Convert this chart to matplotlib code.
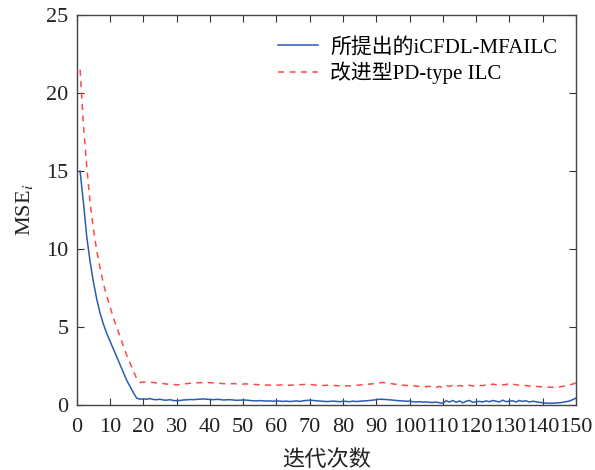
import matplotlib
matplotlib.use('Agg')
import matplotlib.pyplot as plt

plt.rcParams['font.family'] = ['Liberation Serif', 'Noto Sans CJK SC']
plt.rcParams['mathtext.fontset'] = 'stix'

iterations = list(range(1, 151))

# proposed iCFDL-MFAILC
mse_proposed = [
    15.0, 13.0, 10.8, 9.2, 7.9, 6.8, 5.9, 5.2, 4.6, 4.1,
    3.6, 3.1, 2.6, 2.1, 1.6, 1.2, 0.8, 0.45, 0.38,
    0.40, 0.38, 0.42, 0.36, 0.35, 0.38, 0.33, 0.32, 0.35, 0.30, 0.28,
    0.30, 0.33, 0.34, 0.36, 0.35, 0.37, 0.38, 0.40, 0.38, 0.36,
    0.35, 0.37, 0.36, 0.33, 0.34, 0.35, 0.33, 0.31, 0.32, 0.33,
    0.32, 0.30, 0.28, 0.27, 0.29, 0.28, 0.26, 0.27, 0.25, 0.27,
    0.26, 0.24, 0.26, 0.23, 0.25, 0.27, 0.24, 0.28, 0.30, 0.32,
    0.30, 0.28, 0.26, 0.25, 0.23, 0.24, 0.26, 0.24, 0.22, 0.25,
    0.24, 0.22, 0.26, 0.23, 0.25, 0.27, 0.28, 0.30, 0.32, 0.35,
    0.38, 0.37, 0.36, 0.34, 0.32, 0.30, 0.28, 0.27, 0.25, 0.26,
    0.22, 0.20, 0.22, 0.19, 0.21, 0.18, 0.17, 0.20, 0.15, 0.12,
    0.28, 0.20, 0.30, 0.18, 0.27, 0.15, 0.25, 0.30, 0.18, 0.22,
    0.24, 0.20, 0.27, 0.22, 0.30, 0.25, 0.20, 0.32, 0.22, 0.26,
    0.28, 0.20, 0.30, 0.24, 0.28, 0.20, 0.25, 0.22, 0.18, 0.15,
    0.13, 0.12, 0.12, 0.14, 0.15, 0.18, 0.22, 0.26, 0.35, 0.45,
]

# improved PD-type ILC
mse_pd = [
    21.5, 18.0, 15.3, 13.0, 11.3, 9.9, 8.8, 7.8, 7.0, 6.3,
    5.6, 5.0, 4.4, 3.8, 3.2, 2.7, 2.2, 1.7, 1.45,
    1.48, 1.50, 1.47, 1.45, 1.42, 1.40, 1.38, 1.35, 1.36, 1.32, 1.30,
    1.32, 1.35, 1.38, 1.40, 1.42, 1.43, 1.44, 1.45, 1.46, 1.44,
    1.43, 1.42, 1.40, 1.38, 1.36, 1.37, 1.38, 1.36, 1.34, 1.35,
    1.36, 1.35, 1.33, 1.32, 1.30, 1.31, 1.29, 1.28, 1.27, 1.28,
    1.29, 1.30, 1.28, 1.27, 1.29, 1.30, 1.31, 1.32, 1.33, 1.32,
    1.30, 1.28, 1.27, 1.26, 1.27, 1.28, 1.26, 1.25, 1.24, 1.25,
    1.24, 1.23, 1.25, 1.27, 1.29, 1.31, 1.33, 1.35, 1.37, 1.40,
    1.43, 1.45, 1.42, 1.40, 1.36, 1.33, 1.30, 1.28, 1.26, 1.25,
    1.24, 1.22, 1.20, 1.19, 1.18, 1.20, 1.22, 1.15, 1.20, 1.12,
    1.25, 1.20, 1.28, 1.18, 1.26, 1.22, 1.20, 1.28, 1.22, 1.25,
    1.27, 1.25, 1.30, 1.28, 1.35, 1.30, 1.28, 1.30, 1.32, 1.40,
    1.35, 1.30, 1.28, 1.27, 1.25, 1.23, 1.22, 1.20, 1.18, 1.17,
    1.16, 1.15, 1.14, 1.15, 1.17, 1.20, 1.24, 1.28, 1.35, 1.42,
]

labels = ['所提出的iCFDL-MFAILC', '改进型PD-type ILC']

fig = plt.figure(figsize=(5.95, 4.70), dpi=100)
ax = fig.add_axes([0.129, 0.138, 0.839, 0.830])

ax.plot(iterations, mse_proposed, color='#2b5cb5', lw=1.1, label=labels[0])
ax.plot(iterations, mse_pd, color='#ff4848', lw=1.1, ls=(0, (4, 3.5)), label=labels[1])

ax.set_xlim(0, 150)
ax.set_ylim(0, 25)
ax.set_xticks(range(0, 151, 10))
ax.set_yticks(range(0, 26, 5))
ax.tick_params(direction='in', top=True, right=True, length=5, labelsize=16,
               color='#333333', labelcolor='#222222')
ax.tick_params(axis='x', pad=9)
ax.tick_params(axis='y', pad=6)
for s in ax.spines.values():
    s.set_color('#444444')
    s.set_linewidth(1.0)

ax.set_xlabel('迭代次数', fontsize=16, color='#222222', labelpad=10)
ax.set_ylabel('MSE$_i$', fontsize=16, color='#222222', labelpad=8)

ax.legend(loc='upper right', frameon=False, fontsize=15, handlelength=1.9,
          handletextpad=0.6, labelspacing=0.2, bbox_to_anchor=(1.0, 0.99))

fig.savefig('out.png', dpi=100)
plt.close(fig)
